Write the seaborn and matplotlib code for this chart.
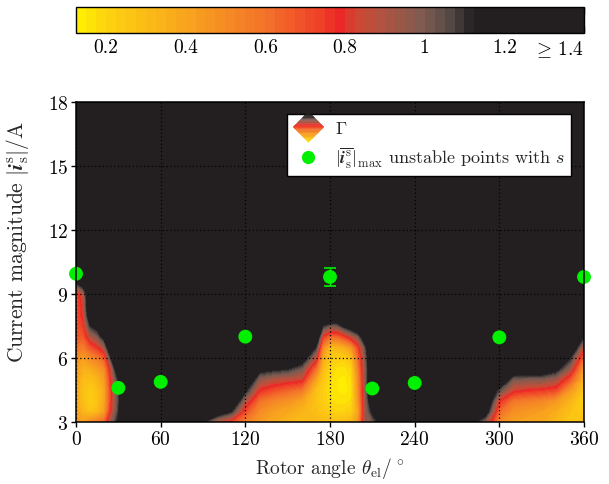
import numpy as np
import pandas as pd
import matplotlib
matplotlib.use("Agg")
import matplotlib.pyplot as plt
import seaborn as sns
from matplotlib.colors import LinearSegmentedColormap, Normalize
from matplotlib.legend_handler import HandlerBase
from matplotlib.patches import Polygon, Patch

# ---- stability margin Gamma over rotor angle and current magnitude ----
GAMMA_MIN = 0.125
GAMMA_MAX = 1.4          # values at or above this are shown saturated

angles = [0, 5, 10, 15, 20, 25, 30, 35, 60, 90, 100, 110, 120, 130, 140, 150,
          160, 170, 175, 180, 185, 190, 195, 200, 205, 210, 215, 220, 250, 280,
          290, 300, 310, 320, 330, 340, 350, 360]
currents = [3.0, 3.5, 4.0, 4.5, 5.0, 5.5, 6.0, 6.5, 7.0, 7.5, 8.0, 8.5, 9.0,
            9.5, 10.0, 18.0]

# Gamma profile for each angle, listed from 3 A upwards in 0.5 A steps;
# entries not listed are saturated (>= 1.4)
gamma_profiles = [
    [0.45, 0.40, 0.38, 0.38, 0.40, 0.42, 0.50, 0.60, 0.68, 0.70, 0.68, 0.66, 0.70, 1.08],
    [0.42, 0.32, 0.28, 0.28, 0.30, 0.35, 0.42, 0.55, 0.66, 0.74, 0.80, 0.82, 0.86, 1.25],
    [0.50, 0.26, 0.22, 0.24, 0.28, 0.36, 0.50, 0.68, 0.88, 1.10, 1.30],
    [0.55, 0.30, 0.26, 0.28, 0.33, 0.42, 0.55, 0.76, 0.98, 1.20],
    [0.62, 0.42, 0.38, 0.38, 0.42, 0.50, 0.66, 0.90, 1.20],
    [0.95, 0.80, 0.76, 0.76, 0.80, 0.86, 1.10],
    [1.15, 1.08, 1.06, 1.06, 1.12, 1.35],
    [],
    [],
    [1.12],
    [0.85, 1.30],
    [0.72, 1.12],
    [0.55, 0.70, 0.90, 1.15],
    [0.45, 0.50, 0.60, 0.78, 0.95, 1.20],
    [0.38, 0.42, 0.52, 0.70, 0.88, 1.15],
    [0.33, 0.38, 0.48, 0.64, 0.85, 1.12],
    [0.30, 0.33, 0.40, 0.58, 0.82, 1.00, 1.25],
    [0.32, 0.28, 0.27, 0.28, 0.40, 0.60, 0.85, 1.10],
    [0.30, 0.25, 0.22, 0.22, 0.25, 0.30, 0.38, 0.50, 0.75, 1.10],
    [0.30, 0.22, 0.18, 0.17, 0.18, 0.20, 0.24, 0.30, 0.62, 1.00],
    [0.28, 0.20, 0.16, 0.15, 0.15, 0.17, 0.22, 0.32, 0.62, 1.00],
    [0.30, 0.20, 0.16, 0.14, 0.14, 0.16, 0.22, 0.35, 0.72, 1.15],
    [0.32, 0.22, 0.18, 0.16, 0.17, 0.20, 0.28, 0.45, 0.85, 1.25],
    [0.45, 0.40, 0.45, 0.48, 0.50, 0.55, 0.62, 0.72, 0.98],
    [0.95, 0.92, 0.92, 0.95, 0.95, 0.95, 0.98, 1.05, 1.30],
    [1.00, 1.15, 1.30],
    [1.15, 1.35],
    [1.15],
    [1.18],
    [1.18],
    [0.95, 1.25],
    [0.50, 0.62, 0.78, 1.05, 1.35],
    [0.42, 0.48, 0.58, 0.82, 1.00, 1.30],
    [0.40, 0.45, 0.55, 0.78, 0.98, 1.30],
    [0.38, 0.42, 0.52, 0.76, 0.98, 1.30],
    [0.32, 0.36, 0.45, 0.72, 0.92, 1.18],
    [0.25, 0.28, 0.33, 0.45, 0.68, 0.92, 1.12],
    [0.30, 0.22, 0.20, 0.25, 0.32, 0.42, 0.60, 0.82, 1.10],
]

# maximum current of the unstable operating points
point_angles = [0, 30, 60, 120, 180, 210, 240, 300, 360]
point_currents = [9.95, 4.6, 4.88, 7.0, 9.8, 4.57, 4.83, 6.97, 9.8]
point_spread = [0, 0, 0, 0, 0.43, 0, 0, 0, 0]

cbar_ticks = [0.2, 0.4, 0.6, 0.8, 1.0, 1.2, 1.4]
cbar_labels = ["0.2", "0.4", "0.6", "0.8", "1", "1.2", r"$\geq\,$1.4"]
x_ticks = [0, 60, 120, 180, 240, 300, 360]
y_ticks = [3, 6, 9, 12, 15, 18]

FS = 14

# ---- style ----
sns.set_style("ticks")
plt.rcParams.update({
    "font.family": "serif",
    "font.serif": ["cmr10"],
    "mathtext.fontset": "cm",
    "axes.formatter.use_mathtext": True,
    "font.size": FS,
    "axes.linewidth": 1.1,
    "xtick.color": "black",
    "ytick.color": "black",
    "axes.edgecolor": "black",
})

DARK = "#231F20"
GREEN = "#00F000"
span = GAMMA_MAX - GAMMA_MIN
nodes = [
    (0.125, "#FFF100"), (0.2, "#FDD20F"), (0.4, "#F8A41E"), (0.6, "#F3722A"),
    (0.75, "#EE3A28"), (0.8, "#EC2227"), (0.82, "#D3452F"), (0.9, "#AD5442"),
    (1.0, "#7C5B52"), (1.07, "#514744"), (1.125, DARK), (1.4, DARK),
]
cmap = LinearSegmentedColormap.from_list(
    "gamma", [((v - GAMMA_MIN) / span, c) for v, c in nodes])
norm = Normalize(GAMMA_MIN, GAMMA_MAX)

# assemble the field (rows: currents, columns: angles)
Z = np.full((len(currents), len(angles)), GAMMA_MAX)
for j, prof in enumerate(gamma_profiles):
    Z[:len(prof), j] = prof

fig = plt.figure(figsize=(6.09, 4.85), dpi=100)
ax = fig.add_axes([76 / 609, 1 - 423 / 485, 508 / 609, 320 / 485])
ax.set_facecolor(DARK)

levels = np.arange(GAMMA_MIN, GAMMA_MAX + 1e-9, 0.025)
cs = ax.contourf(angles, currents, Z, levels=levels, cmap=cmap, norm=norm,
                 zorder=0)

ax.grid(True, color="black", linestyle=(0, (1, 2)), linewidth=0.9)
ax.set_axisbelow(False)

df = pd.DataFrame({"angle": point_angles, "current": point_currents,
                   "spread": point_spread})
ax.errorbar(df["angle"], df["current"], yerr=df["spread"], fmt="none",
            ecolor=GREEN, elinewidth=1.0, capsize=4, capthick=1.2, zorder=4,
            clip_on=False)
sns.scatterplot(data=df, x="angle", y="current", ax=ax, color=GREEN, s=100,
                edgecolor="none", zorder=5, clip_on=False, legend=False)

ax.set_xlim(0, 360)
ax.set_ylim(3, 18)
ax.set_xticks(x_ticks)
ax.set_yticks(y_ticks)
ax.tick_params(direction="out", length=3.5, width=1.0, labelsize=FS, pad=2)
ax.set_xlabel(r"Rotor angle $\theta_\mathrm{el}/^\circ$", fontsize=FS,
              labelpad=5)
ax.set_ylabel(r"Current magnitude $|\boldsymbol{i}_\mathrm{s}^\mathrm{s}|/\mathrm{A}$",
              fontsize=15.5)
ax.yaxis.set_label_coords(-0.088, 0.565)
for s in ax.spines.values():
    s.set_linewidth(1.1)
    s.set_zorder(6)


class DiamondGradientHandler(HandlerBase):
    """Legend key: a diamond shaded with the Gamma colour scale."""

    def create_artists(self, legend, orig_handle, xdescent, ydescent,
                       width, height, fontsize, trans):
        cx = width / 2 - xdescent
        cy = height / 2 - ydescent
        r = 0.85 * fontsize
        n = 24
        ys = np.linspace(cy + r, cy - r, n + 1)
        vals = np.linspace(1.3, 0.15, n)

        def hw(y):
            return r - abs(y - cy)

        arts = []
        for k in range(n):
            y0, y1 = ys[k], ys[k + 1]
            cross = y1 < cy < y0
            pts = [(cx - hw(y0), y0), (cx + hw(y0), y0)]
            if cross:
                pts.append((cx + r, cy))
            pts += [(cx + hw(y1), y1), (cx - hw(y1), y1)]
            if cross:
                pts.append((cx - r, cy))
            p = Polygon(pts, closed=True, facecolor=cmap(norm(vals[k])),
                        edgecolor=cmap(norm(vals[k])), linewidth=0.3,
                        transform=trans)
            arts.append(p)
        return arts


gamma_key = Patch(facecolor=DARK)
point_key = plt.Line2D([], [], linestyle="none", marker="o", markersize=9.5,
                       markerfacecolor=GREEN, markeredgecolor="none")
leg = ax.legend(
    [gamma_key, point_key],
    [r"$\Gamma$",
     r"$|\overline{\boldsymbol{i}_\mathrm{s}^\mathrm{s}}|_\mathrm{max}$ unstable points with $s$"],
    handler_map={Patch: DiamondGradientHandler()},
    loc="upper left", bbox_to_anchor=(0.415, 0.9625), borderaxespad=0,
    fancybox=False, framealpha=1, edgecolor="black", fontsize=13,
    handlelength=1.7, handletextpad=0.6, labelspacing=0.45, borderpad=0.35)
leg.get_frame().set_linewidth(1.0)
leg.set_zorder(7)

# ---- colour bar ----
cax = fig.add_axes([76 / 609, 1 - 34 / 485, 508 / 609, 26 / 485])
cb = fig.colorbar(cs, cax=cax, orientation="horizontal", ticks=cbar_ticks)
cb.ax.set_xticklabels(cbar_labels)
cb.ax.tick_params(direction="in", top=True, bottom=True, length=5, width=1.0,
                  color="black", labelsize=FS, pad=4)
cb.ax.get_xticklabels()[-1].set_horizontalalignment("right")
cb.outline.set_linewidth(1.0)
cb.outline.set_edgecolor("black")

fig.savefig("out.png", dpi=100)
